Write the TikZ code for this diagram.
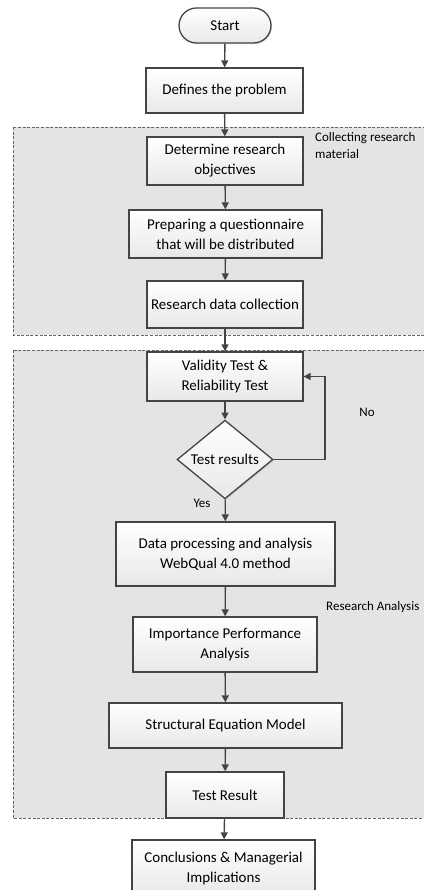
\documentclass[tikz,border=0pt]{standalone}
\usepackage{fontspec}
\setmainfont{Carlito}
\usepackage{xcolor}
\usepackage{tikz}
\usetikzlibrary{shapes.geometric,shapes.misc,arrows.meta,positioning,calc,shadows}

\definecolor{lineC}{HTML}{444444}
\definecolor{areaC}{HTML}{E4E4E4}

\begin{document}
\begin{tikzpicture}[x=1pt, y=-1pt,
    box/.style={draw=lineC, line width=1.3pt, rectangle, top color=white, bottom color=black!9,
        drop shadow={shadow xshift=1.2pt, shadow yshift=-1.2pt, opacity=0.25},
        align=center, inner sep=2pt, font=\fontsize{15}{20}\selectfont},
    flow/.style={draw=lineC, line width=1.4pt, -{Triangle[length=7pt,width=7pt]}},
    area/.style={draw=black!60, fill=areaC, line width=0.9pt, dash pattern=on 3pt off 1.6pt},
    note/.style={font=\fontsize{13}{17}\selectfont, align=left, inner sep=0pt}]
    \useasboundingbox (0,0) rectangle (423,890);

    % Background areas
    \draw[area] (13,127) rectangle (430,335);
    \draw[area] (13,350) rectangle (430,818);

    % Steps
    \node[box, rounded rectangle, minimum width=96pt, minimum height=35pt] (start) at (225,25.5) {Start};
    \node[box, minimum width=157pt, minimum height=45pt] (define) at (224.5,90.5) {Defines the problem};
    \node[box, minimum width=156pt, minimum height=48pt] (objective) at (225,161) {Determine research\\objectives};
    \node[box, minimum width=193pt, minimum height=48pt] (questionnaire) at (225.5,234) {Preparing a questionnaire\\that will be distributed};
    \node[box, minimum width=156pt, minimum height=47pt] (collection) at (225,304.5) {Research data collection};
    \node[box, minimum width=156pt, minimum height=49pt] (validity) at (225,376.5) {Validity Test \&\\Reliability Test};
    \node[box, diamond, minimum width=96pt, minimum height=69pt, inner sep=0pt] (decision) at (225,459.5) {Test results};
    \node[box, minimum width=219pt, minimum height=64pt] (process) at (225.5,554) {Data processing and analysis\\WebQual 4.0 method};
    \node[box, minimum width=184pt, minimum height=55pt] (ipa) at (225,644.5) {Importance Performance\\Analysis};
    \node[box, minimum width=233pt, minimum height=45pt] (sem) at (225.5,725.5) {Structural Equation Model};
    \node[box, minimum width=118pt, minimum height=46pt] (result) at (225,795) {Test Result};
    \node[box, minimum width=183pt, minimum height=56pt] (conclusion) at (223.5,868) {Conclusions \& Managerial\\Implications};

    % Side labels
    \node[note, anchor=north west] (collectlbl) at (315,132) {Collecting research\\material};
    \node[note] (nolbl) at (367,412) {No};
    \node[note] (yeslbl) at (202,503) {Yes};
    \node[note, anchor=west] (analysislbl) at (326,607) {Research Analysis};

    % Connectors
    \draw[flow] (start) -- (define);
    \draw[flow] (define) -- (objective);
    \draw[flow] (objective) -- (questionnaire);
    \draw[flow] (questionnaire) -- (collection);
    \draw[flow] (collection) -- (validity);
    \draw[flow] (validity) -- (decision);
    \draw[flow] (decision) -- (process);
    \draw[flow] (process) -- (ipa);
    \draw[flow] (ipa) -- (sem);
    \draw[flow] (sem) -- (result);
    \draw[flow] (result) -- (conclusion);

    % Retry loop
    \coordinate (loop) at (325,376.5);
    \draw[flow] (decision.east) -| (loop) -- (validity.east);
\end{tikzpicture}
\end{document}
